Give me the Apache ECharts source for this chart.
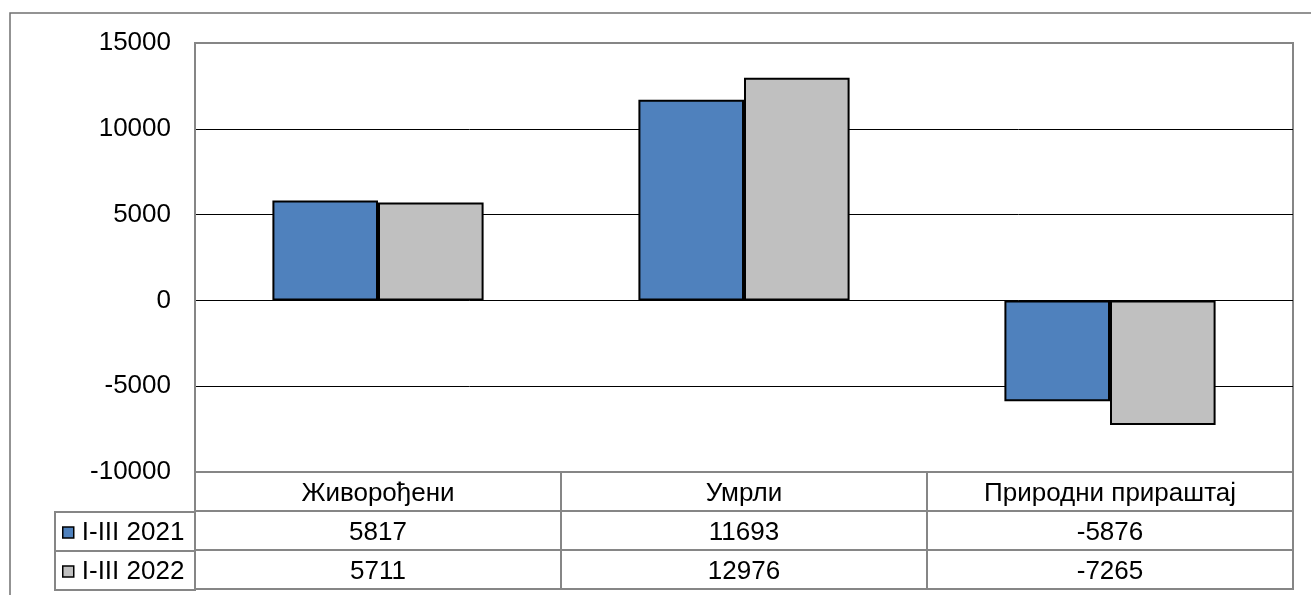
<!DOCTYPE html>
<html>
<head>
<meta charset="utf-8">
<script src="https://cdn.jsdelivr.net/npm/echarts@6/dist/echarts.min.js"></script>
<style>
html,body{margin:0;padding:0;background:#fff;}
#chart{width:1311px;height:595px;}
</style>
</head>
<body>
<div id="chart"></div>
<script>
var categories = ['Живорођени', 'Умрли', 'Природни прираштај'];
var seriesNames = ['I-III 2021', 'I-III 2022'];
var values2021 = [5817, 11693, -5876];
var values2022 = [5711, 12976, -7265];
var yTicks = [-10000, -5000, 0, 5000, 10000, 15000];

var FONT = 'Liberation Sans, Arial, sans-serif';
var GRAY = '#868686';
var FS = 26;

var chart = echarts.init(document.getElementById('chart'), null, {renderer: 'canvas'});

function valueAxis(offset, arr) {
  return {
    type: 'category',
    data: categories,
    gridIndex: 0,
    position: 'bottom',
    offset: offset,
    axisLine: {show: true, onZero: false, lineStyle: {color: GRAY, width: 2}},
    axisTick: {show: false},
    axisLabel: {
      show: !!arr,
      interval: 0,
      margin: 9,
      fontSize: FS,
      fontFamily: FONT,
      color: '#000',
      formatter: function (v, i) { return arr ? String(arr[i]) : ''; }
    },
    splitLine: {show: false}
  };
}

var option = {
  animation: false,
  backgroundColor: '#fff',
  textStyle: {fontFamily: FONT},
  grid: {
    left: 195, right: 18, top: 43, bottom: 123,
    show: true, borderColor: GRAY, borderWidth: 2, backgroundColor: 'transparent'
  },
  legend: {
    orient: 'vertical',
    left: 57,
    top: 514,
    itemWidth: 11,
    itemHeight: 11,
    itemGap: 12,
    icon: 'rect',
    data: seriesNames,
    textStyle: {fontSize: FS, fontFamily: FONT, color: '#000', lineHeight: 27, padding: [0, 0, 0, 3]},
    itemStyle: {borderColor: '#000', borderWidth: 1.5},
    selectedMode: false
  },
  xAxis: [
    {
      type: 'category',
      data: categories,
      gridIndex: 0,
      position: 'bottom',
      axisLine: {show: true, onZero: false, lineStyle: {color: GRAY, width: 2}},
      axisTick: {show: true, length: 118, interval: 0, alignWithLabel: false, lineStyle: {color: GRAY, width: 2}},
      axisLabel: {interval: 0, margin: 9, fontSize: FS, fontFamily: FONT, color: '#000'},
      splitLine: {show: false}
    },
    valueAxis(39, values2021),
    valueAxis(78, values2022),
    valueAxis(117, null)
  ],
  yAxis: {
    type: 'value',
    min: yTicks[0],
    max: yTicks[yTicks.length - 1],
    interval: 5000,
    axisLine: {show: true, lineStyle: {color: GRAY, width: 2}},
    axisTick: {show: false},
    axisLabel: {fontSize: FS, fontFamily: FONT, color: '#000', margin: 24, formatter: function (v) { return String(v); }},
    splitLine: {show: true, lineStyle: {color: ['transparent', '#000', '#000', '#000', '#000', 'transparent'], width: 1}}
  },
  series: [
    {
      name: seriesNames[0],
      type: 'bar',
      data: values2021,
      barGap: '0%',
      barCategoryGap: '42.3%',
      itemStyle: {color: '#4F81BD', borderColor: '#000', borderWidth: 2}
    },
    {
      name: seriesNames[1],
      type: 'bar',
      data: values2022,
      barGap: '0%',
      barCategoryGap: '42.3%',
      itemStyle: {color: '#C0C0C0', borderColor: '#000', borderWidth: 2}
    }
  ],
  graphic: [
    {type: 'rect', silent: true, z: -1, shape: {x: 10, y: 13, width: 1400, height: 700}, style: {fill: 'none', stroke: '#707070', lineWidth: 1.5}},
    {type: 'rect', silent: true, shape: {x: 55, y: 512, width: 140, height: 78}, style: {fill: 'none', stroke: GRAY, lineWidth: 2}},
    {type: 'line', silent: true, shape: {x1: 55, y1: 551, x2: 195, y2: 551}, style: {stroke: GRAY, lineWidth: 2}}
  ]
};

chart.setOption(option);
</script>
</body>
</html>
